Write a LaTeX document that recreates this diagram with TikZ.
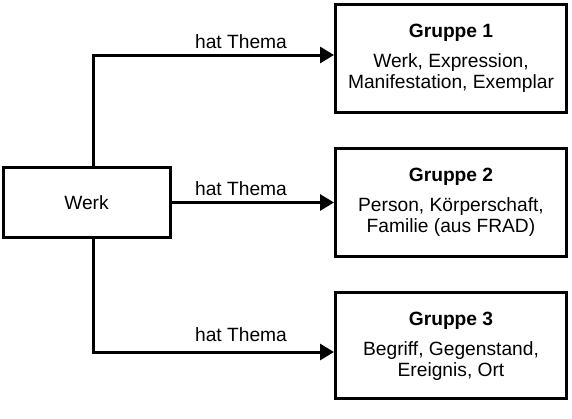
\documentclass[tikz,border=0pt]{standalone}
\usepackage{fontspec}
\setmainfont{Liberation Sans}
\usetikzlibrary{arrows.meta}
\begin{document}
\begin{tikzpicture}[x=1pt,y=-1pt,
  box/.style={draw,line width=3pt,rectangle,inner sep=0pt},
  grp/.style={box,minimum width=231pt,minimum height=108pt},
  conn/.style={line width=3pt,-{Triangle[length=14pt,width=16pt]}},
  txt/.style={font=\fontsize{19.2}{21}\selectfont,inner sep=0pt,anchor=base},
  ttl/.style={txt,font=\fontsize{19.2}{21}\selectfont\bfseries}]
\useasboundingbox (0,0) rectangle (572,418);
\node[box,minimum width=167pt,minimum height=70pt,font=\fontsize{19.2}{21}\selectfont] (werk) at (86.5,202.5) {Werk};
\node[grp] (g1) at (451,58) {};
\node[grp] (g2) at (451,202.5) {};
\node[grp,minimum height=106pt] (g3) at (451,345) {};
\node[ttl] (g1t) at (451,37) {Gruppe 1};
\node[txt] (g1a) at (451,67) {Werk, Expression,};
\node[txt] (g1b) at (451,88) {Manifestation, Exemplar};
\node[ttl] (g2t) at (451,181.5) {Gruppe 2};
\node[txt] (g2a) at (451,211.5) {Person, Körperschaft,};
\node[txt] (g2b) at (451,232.5) {Familie (aus FRAD)};
\node[ttl] (g3t) at (451,325) {Gruppe 3};
\node[txt] (g3a) at (451,355) {Begriff, Gegenstand,};
\node[txt] (g3b) at (451,376) {Ereignis, Ort};
\coordinate (j1) at (93,55);
\coordinate (j3) at (93,352);
\draw[conn] (werk.north -| j1) -- (j1) -- (j1 -| g1.west);
\draw[conn] (werk.east) -- (werk.east -| g2.west);
\draw[conn] (werk.south -| j3) -- (j3) -- (j3 -| g3.west);
\node[txt] (l1) at (241,48) {hat Thema};
\node[txt] (l2) at (241,195) {hat Thema};
\node[txt] (l3) at (241,341) {hat Thema};
\end{tikzpicture}
\end{document}
